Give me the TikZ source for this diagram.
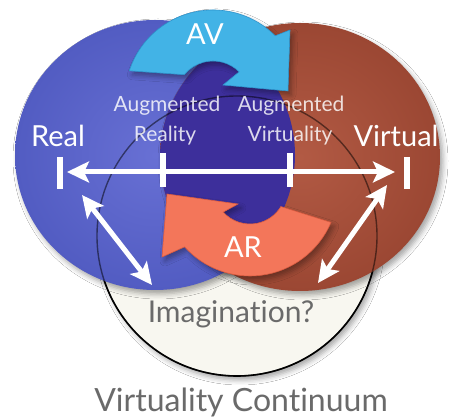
\documentclass[tikz,border=0pt]{standalone}
\usepackage{fontspec}
\setmainfont{Lato}[Ligatures=NoCommon]
\usetikzlibrary{calc,arrows.meta,shadows.blur}

\definecolor{realin}{HTML}{6870D4}
\definecolor{realout}{HTML}{525CC2}
\definecolor{virtin}{HTML}{B25A44}
\definecolor{virtout}{HTML}{9B4733}
\definecolor{mixed}{HTML}{3D2F9B}
\definecolor{imgfill}{HTML}{F8F7F0}
\definecolor{avblue}{HTML}{42B3E6}
\definecolor{avedge}{HTML}{2E93CC}
\definecolor{arsalmon}{HTML}{F3765A}
\definecolor{aredge}{HTML}{D95B40}
\definecolor{caption}{HTML}{6A6A6A}

\tikzset{
  softshadow/.style={blur shadow={shadow xshift=3pt, shadow yshift=-4pt,
      shadow blur radius=5pt, shadow opacity=35}},
  wline/.style={white, line width=5pt,
      arrows={Stealth[length=22pt,width=21pt,inset=5pt]-Stealth[length=22pt,width=21pt,inset=5pt]}},
  wbar/.style={white, line width=5.5pt},
  bigword/.style={text=white, font=\fontsize{29}{33}\selectfont, anchor=base, inner sep=0pt},
  arcword/.style={text=white, font=\fontsize{29}{32}\selectfont, anchor=base, inner sep=0pt},
  midword/.style={text=white, text opacity=0.82, font=\fontsize{21}{24}\selectfont, anchor=base, inner sep=0pt},
  grayword/.style={text=caption, font=\fontsize{30}{34}\selectfont, anchor=base, inner sep=0pt},
}

\begin{document}
\begin{tikzpicture}[x=1pt,y=1pt]
\useasboundingbox (0,0) rectangle (453,420);
\fill[white] (0,0) rectangle (453,420);

% imagination disc
\fill[imgfill, softshadow] (237,184) circle[radius=140];
\draw[black, line width=1.6pt] (237,184) circle[radius=140];

% real and virtual discs
\path[shade, inner color=realin, outer color=realout, softshadow]
  (155,265) ellipse[x radius=140, y radius=135];
\path[shade, inner color=virtin, outer color=virtout, softshadow]
  (300,263) ellipse[x radius=140, y radius=134];
\begin{scope}
  \clip (155,265) ellipse[x radius=140, y radius=135];
  \fill[mixed] (300,263) ellipse[x radius=140, y radius=134];
\end{scope}
% rim of the imagination disc showing through
\draw[black, opacity=0.5, line width=1.4pt] (237,184) circle[radius=140];

% AV curved arrow
\coordinate (avc) at (213,322);
\filldraw[fill=avblue, draw=avedge, line width=0.6pt, softshadow]
  ($(avc)+(162:88)$) arc[start angle=162, end angle=45, radius=88]
  -- (290,390) -- (288,329) -- (223,335)
  -- ($(avc)+(45:37)$) arc[start angle=45, end angle=141, radius=37] -- cycle;

% AR curved arrow
\coordinate (arcen) at (250,232);
\filldraw[fill=arsalmon, draw=aredge, line width=0.6pt, softshadow]
  ($(arcen)+(-23:88)$) arc[start angle=-23, end angle=-138, radius=88]
  -- (162,163) -- (167,226) -- (238,216)
  -- ($(arcen)+(-138:36)$) arc[start angle=-138, end angle=-31, radius=36] -- cycle;

% labels
\node[arcword] (avlbl) at (205,375) {AV};
\node[arcword] (arlbl) at (243,162) {AR};
\node[bigword] (real) at (58,273) {Real};
\node[bigword] (virtual) at (396,273) {Virtual};
\node[midword] (augL) at (167,308) {Augmented};
\node[midword] (realityL) at (165,278) {Reality};
\node[midword] (augR) at (291,308) {Augmented};
\node[midword] (virtR) at (290,278) {Virtuality};
\node[grayword] (imag) at (231,97) {Imagination?};
\node[grayword, font=\fontsize{32}{36}\selectfont] (vc) at (241,8) {Virtuality Continuum};

% continuum scale
\coordinate (realbarT) at (60,263);
\coordinate (realbarB) at (60,231);
\coordinate (virtbarT) at (407,263);
\coordinate (virtbarB) at (407,231);
\coordinate (leftTip) at (67,248);
\coordinate (rightTip) at (395,248);
\coordinate (arT) at (163,267);
\coordinate (arB) at (163,233);
\coordinate (avT) at (290,267);
\coordinate (avB) at (290,233);
\draw[wbar] (realbarT) -- (realbarB);
\draw[wbar] (virtbarT) -- (virtbarB);
\draw[wbar] (arT) -- (arB);
\draw[wbar] (avT) -- (avB);
\draw[wline] (leftTip) -- (rightTip);

% links to imagination
\coordinate (dlA) at (82,225);
\coordinate (dlB) at (152,135);
\coordinate (drA) at (387,235);
\coordinate (drB) at (318,137);
\draw[wline] (dlA) -- (dlB);
\draw[wline] (drA) -- (drB);
\end{tikzpicture}
\end{document}
